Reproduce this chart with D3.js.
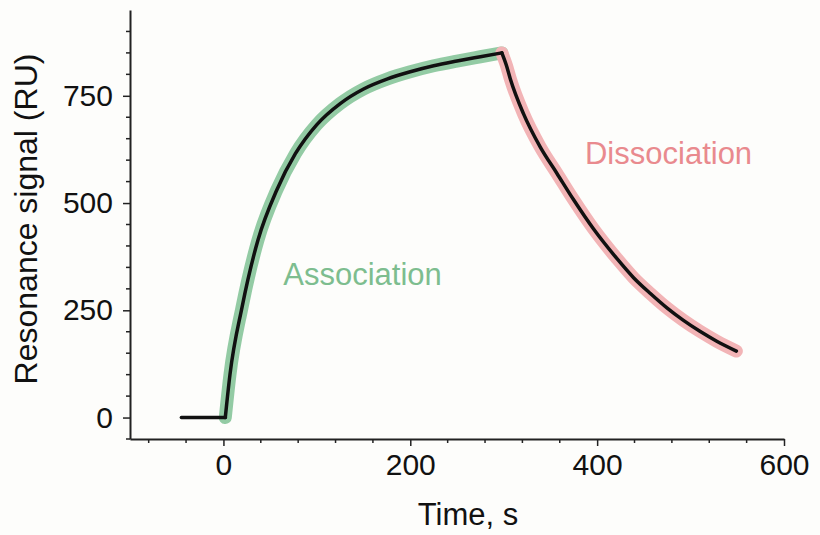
<!DOCTYPE html>
<html>
<head>
<meta charset="utf-8">
<script src="https://cdn.jsdelivr.net/npm/d3@7"></script>
<style>
  body { margin: 0; background: #fdfdfb; }
  text { font-family: 'Liberation Sans', Arial, sans-serif; }
</style>
</head>
<body>
<div id="chart"></div>
<script>
// values
const baselineTime = [-45, 2]
const baselineSignal = [0, 0]

const assocTime = [2, 7, 20, 37, 57, 77, 100, 125, 150, 175, 200, 225, 250, 275, 298]
const assocSignal = [0, 100, 258, 414, 530, 615, 683, 732, 766, 789, 806, 820, 831, 841, 850]

const dissocTime = [298, 303, 307, 321, 339, 357, 375, 396, 421, 439, 457, 475, 492, 510, 528, 549]
const dissocSignal = [850, 820, 790, 709, 631, 569, 507, 440, 371, 326, 289, 255, 227, 201, 178, 155]

const xMajor = [0, 200, 400, 600]
const xMinor = [-80, -40, 40, 80, 120, 160, 240, 280, 320, 360, 440, 480, 520, 560]
const yMajor = [0, 250, 500, 750]
const yMinor = [-50, 50, 100, 150, 200, 300, 350, 400, 450, 550, 600, 650, 700, 800, 850, 900]

const labels = [
  { text: 'Association', t: 64, y: 309, color: '#7dbd8f' },
  { text: 'Dissociation', t: 387, y: 592, color: '#e98a8e' }
]

const width = 820
const height = 535

const svg = d3
  .select('#chart')
  .append('svg')
  .attr('width', width)
  .attr('height', height)

const x = d3.scaleLinear().domain([-100, 600]).range([130, 784])
const y = d3.scaleLinear().domain([-50, 950]).range([439, 10])

const line = d3
  .line()
  .x(d => x(d[0]))
  .y(d => y(d[1]))
  .curve(d3.curveMonotoneX)

const zip = (a, b) => a.map((v, i) => [v, b[i]])
const baseline = zip(baselineTime, baselineSignal)
const assoc = zip(assocTime, assocSignal)
const dissoc = zip(dissocTime, dissocSignal)

// coloured halos
const halos = [
  { pts: assoc, color: '#93cba4' },
  { pts: dissoc, color: '#f2b4b6' }
]
svg
  .selectAll('.halo')
  .data(halos)
  .enter()
  .append('path')
  .attr('d', d => line(d.pts))
  .attr('fill', 'none')
  .attr('stroke', d => d.color)
  .attr('stroke-width', 13)
  .attr('stroke-linecap', 'round')
  .attr('stroke-linejoin', 'round')

// black trace
svg
  .selectAll('.trace')
  .data([baseline, assoc, dissoc])
  .enter()
  .append('path')
  .attr('d', line)
  .attr('fill', 'none')
  .attr('stroke', '#111')
  .attr('stroke-width', 3.5)
  .attr('stroke-linecap', 'round')
  .attr('stroke-linejoin', 'round')

// axes
const xAxis = svg.append('g').attr('transform', `translate(0,${y(-50)})`)
xAxis.call(d3.axisBottom(x).tickValues(xMajor).tickSize(7).tickSizeOuter(0).tickPadding(8))
xAxis
  .selectAll('.minor')
  .data(xMinor)
  .enter()
  .append('line')
  .attr('x1', d => x(d))
  .attr('x2', d => x(d))
  .attr('y1', 0)
  .attr('y2', 4)
  .attr('stroke', '#222')
  .attr('stroke-width', 1.5)

const yAxis = svg.append('g').attr('transform', `translate(${x(-100)},0)`)
yAxis.call(d3.axisLeft(y).tickValues(yMajor).tickSize(7).tickSizeOuter(0).tickPadding(10))
yAxis
  .selectAll('.minor')
  .data(yMinor)
  .enter()
  .append('line')
  .attr('x1', 0)
  .attr('x2', -4)
  .attr('y1', d => y(d))
  .attr('y2', d => y(d))
  .attr('stroke', '#222')
  .attr('stroke-width', 1.5)

svg.selectAll('.domain').attr('stroke', '#222').attr('stroke-width', 2)
svg.selectAll('.tick line').attr('stroke', '#222').attr('stroke-width', 1.5)
svg
  .selectAll('.tick text')
  .attr('font-family', "'Liberation Sans', Arial, sans-serif")
  .attr('font-size', 30)
  .attr('fill', '#111')

svg
  .append('text')
  .text('Time, s')
  .attr('x', 468)
  .attr('y', 525)
  .attr('text-anchor', 'middle')
  .attr('font-size', 31)
  .attr('fill', '#111')

svg
  .append('text')
  .text('Resonance signal (RU)')
  .attr('transform', 'translate(37,219) rotate(-90)')
  .attr('text-anchor', 'middle')
  .attr('font-size', 32)
  .attr('fill', '#111')

svg
  .selectAll('.phase-label')
  .data(labels)
  .enter()
  .append('text')
  .text(d => d.text)
  .attr('x', d => x(d.t))
  .attr('y', d => y(d.y))
  .attr('font-size', 31)
  .attr('fill', d => d.color)
</script>
</body>
</html>
